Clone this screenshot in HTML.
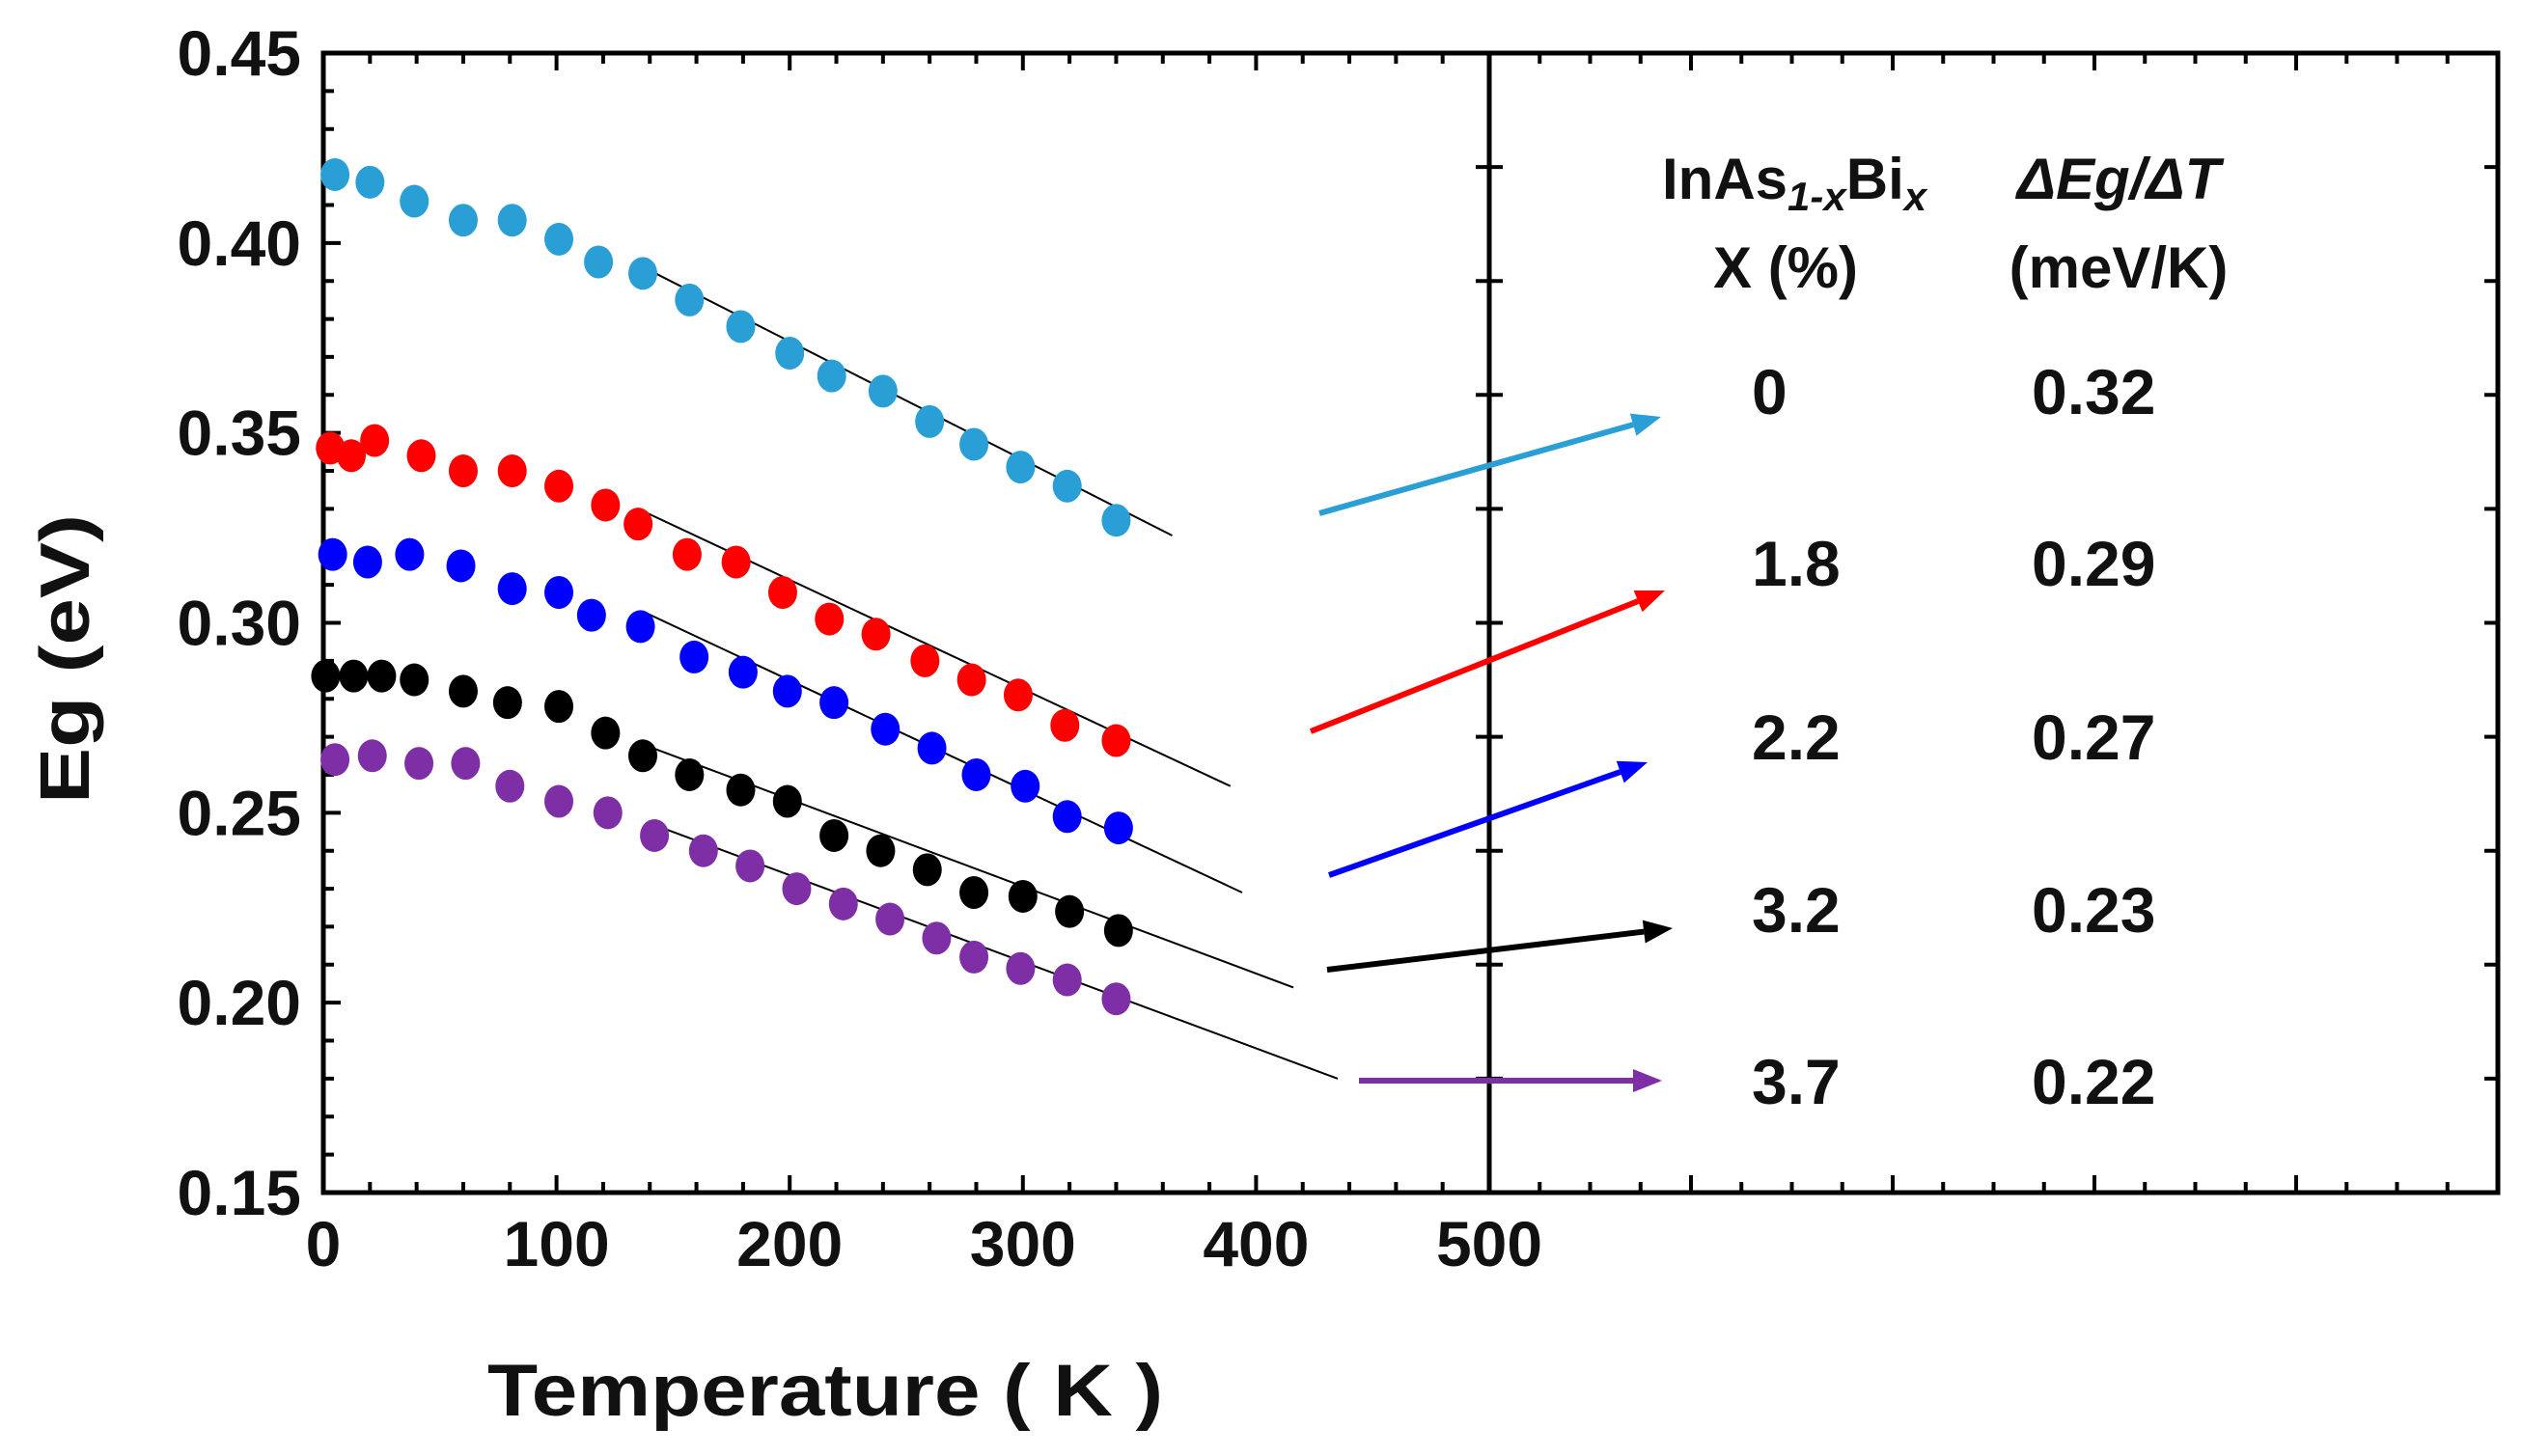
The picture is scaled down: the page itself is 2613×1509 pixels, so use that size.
<!DOCTYPE html>
<html><head><meta charset="utf-8"><style>
html,body{margin:0;padding:0;background:#fff}
svg{display:block}
text{font-family:"Liberation Sans Narrow","Liberation Sans",sans-serif;font-weight:bold;fill:#111}
.leg{font-family:"Liberation Sans",sans-serif}
</style></head><body>
<svg id="chart" width="2613" height="1509" viewBox="0 0 2613 1509" xmlns="http://www.w3.org/2000/svg">
<g id="frame"></g>
<g id="ticks"></g>
<g id="fits"></g>
<g id="pts"></g>
<g id="arrows"></g>
<g id="labels"></g>
<text transform="translate(92,683) rotate(-90)" text-anchor="middle" font-size="72" class="leg" textLength="300" lengthAdjust="spacingAndGlyphs">Eg (eV)</text>
<text x="505" y="1467" font-size="76" class="leg" textLength="700" lengthAdjust="spacingAndGlyphs">Temperature ( K )</text>
<g class="leg">
<text class="leg" x="1722" y="206" font-size="60">InAs<tspan font-size="42" font-style="italic" dy="12">1-x</tspan><tspan dy="-12">Bi</tspan><tspan font-size="42" font-style="italic" dy="12">x</tspan></text>
<text class="leg" x="1850" y="298" font-size="60" text-anchor="middle">X (%)</text>
<text class="leg" x="2195" y="206" font-size="60" font-style="italic" text-anchor="middle">ΔEg/ΔT</text>
<text class="leg" x="2195" y="298" font-size="60" text-anchor="middle">(meV/K)</text>
</g>
<g id="legrows"></g>
</svg>
<script>
const T_cyan=[5,20,39,60,81,101,118,137,157,179,200,218,240,260,279,299,319,340];
const E_cyan=[0.418,0.416,0.411,0.406,0.406,0.401,0.395,0.392,0.385,0.378,0.371,0.365,0.361,0.353,0.347,0.341,0.336,0.327];
const T_red=[3,12,22,42,60,81,101,121,135,156,177,197,217,237,258,278,298,318,340];
const E_red=[0.346,0.344,0.348,0.344,0.340,0.340,0.336,0.331,0.326,0.318,0.316,0.308,0.301,0.297,0.290,0.285,0.281,0.273,0.269];
const T_blue=[4,19,37,59,81,101,115,136,159,180,199,219,241,261,280,301,319,341];
const E_blue=[0.318,0.316,0.318,0.315,0.309,0.308,0.302,0.299,0.291,0.287,0.282,0.279,0.272,0.267,0.260,0.257,0.249,0.246];
const T_black=[1,13,25,39,60,79,101,121,137,157,179,199,219,239,259,279,300,320,341];
const E_black=[0.286,0.286,0.286,0.285,0.282,0.279,0.278,0.271,0.265,0.260,0.256,0.253,0.244,0.240,0.235,0.229,0.228,0.224,0.219];
const T_purple=[5,21,41,61,80,101,122,142,163,183,203,223,243,263,279,299,319,340];
const E_purple=[0.264,0.265,0.263,0.263,0.257,0.253,0.250,0.244,0.240,0.236,0.230,0.226,0.222,0.217,0.212,0.209,0.206,0.201];
const fitT0=[136,135,137,137,141];
const fitT1=[364,389,394,416,435];
const fitE0=[0.394,0.330,0.303,0.268,0.247];
const fitE1=[0.323,0.257,0.229,0.204,0.180];
const compX=["0","1.8","2.2","3.2","3.7"];
const slopes=["0.32","0.29","0.27","0.23","0.22"];
const xTicks=[0,100,200,300,400,500];
const yTicks=[0.15,0.20,0.25,0.30,0.35,0.40,0.45];
const yTickLabels=["0.15","0.20","0.25","0.30","0.35","0.40","0.45"];

const X0=335,X1=1543,Y0=55,Y1=1236,XR=2588;
const xs=t=>X0+(t-0)/500*(X1-X0);
const ys=e=>Y1-(e-0.15)/0.30*(Y1-Y0);
const NS="http://www.w3.org/2000/svg";
function mk(tag,attrs,parent){const el=document.createElementNS(NS,tag);for(const k in attrs)el.setAttribute(k,attrs[k]);parent.appendChild(el);return el;}
const frame=document.getElementById('frame');
let r=mk('rect',{x:X0,y:Y0,width:XR-X0,height:Y1-Y0,fill:'none',stroke:'#000','stroke-width':5},frame);


let d=mk('line',{x1:X1,y1:Y0,x2:X1,y2:Y1,stroke:'#000','stroke-width':5},frame);


const tk=document.getElementById('ticks');
let p='';
for(let t=0;t<=500;t+=20){const L=(t%100===0)?18:11;const x=xs(t);p+=`M${x},${Y1}v${-L}M${x},${Y0}v${L}`;}
for(let v=0;v<=30;v++){const e=0.15+v*0.01;const L=(v%5===0)?18:11;const y=ys(e);p+=`M${X0},${y}h${L}`;}
const wR=(XR-X1)/5;
for(let i=0;i<=20;i++){const L=(i%4===0)?18:11;const x=X1+i*wR/4;p+=`M${x},${Y1}v${-L}M${x},${Y0}v${L}`;}
for(let i=1;i<10;i++){const y=Y0+i*(Y1-Y0)/10;p+=`M${X1-14},${y}h28M${XR},${y}h-14`;}
let tp=mk('path',{d:p,stroke:'#000','stroke-width':4,fill:'none'},tk);


const lab=document.getElementById('labels');
xTicks.forEach(t=>{const e=mk('text',{x:xs(t),y:1312,'text-anchor':'middle','font-size':66},lab);e.textContent=String(t);

});
yTicks.forEach((v,i)=>{const e=mk('text',{x:312,y:ys(v)+23,'text-anchor':'end','font-size':66},lab);e.textContent=yTickLabels[i];

});
const fits=document.getElementById('fits');
for(let i=0;i<5;i++){const l=mk('line',{x1:xs(fitT0[i]),y1:ys(fitE0[i]),x2:xs(fitT1[i]),y2:ys(fitE1[i]),stroke:'#000','stroke-width':2},fits);

}
const series=[[T_cyan,E_cyan,'#2a9fd6','cyan'],[T_red,E_red,'#ff0000','red'],[T_blue,E_blue,'#0000ff','blue'],[T_black,E_black,'#000000','black'],[T_purple,E_purple,'#7f2fa6','purple']];
const pts=document.getElementById('pts');
series.forEach(s=>{s[0].forEach((t,i)=>{const c=mk('ellipse',{cx:xs(t),cy:ys(s[1][i]),rx:15,ry:17,fill:s[2]},pts);

});});
const ar=document.getElementById('arrows');
const arrowsA=[[1367,532,1721,432],[1358,758,1725,612],[1377,907,1707,790],[1375,1005,1733,962],[1408,1120,1722,1120]];
arrowsA.forEach((a,i)=>{const col=series[i][2];const [x1,y1,x2,y2]=a;const ang=Math.atan2(y2-y1,x2-x1);
const hl=30,hw=12;const bx=x2-hl*Math.cos(ang),by=y2-hl*Math.sin(ang);
const g=mk('g',{},ar);


mk('line',{x1:x1,y1:y1,x2:bx,y2:by,stroke:col,'stroke-width':6},g);
mk('polygon',{points:`${x2},${y2} ${bx+hw*Math.sin(ang)},${by-hw*Math.cos(ang)} ${bx-hw*Math.sin(ang)},${by+hw*Math.cos(ang)}`,fill:col},g);});
const lr=document.getElementById('legrows');
const rowY=[405,583,763,942,1120];
compX.forEach((c,i)=>{const a=mk('text',{x:1815,y:rowY[i]+24,'font-size':66,class:'leg'},lr);a.textContent=c;


const b=mk('text',{x:2105,y:rowY[i]+24,'font-size':66,class:'leg'},lr);b.textContent=slopes[i];

});
</script>
</body></html>
